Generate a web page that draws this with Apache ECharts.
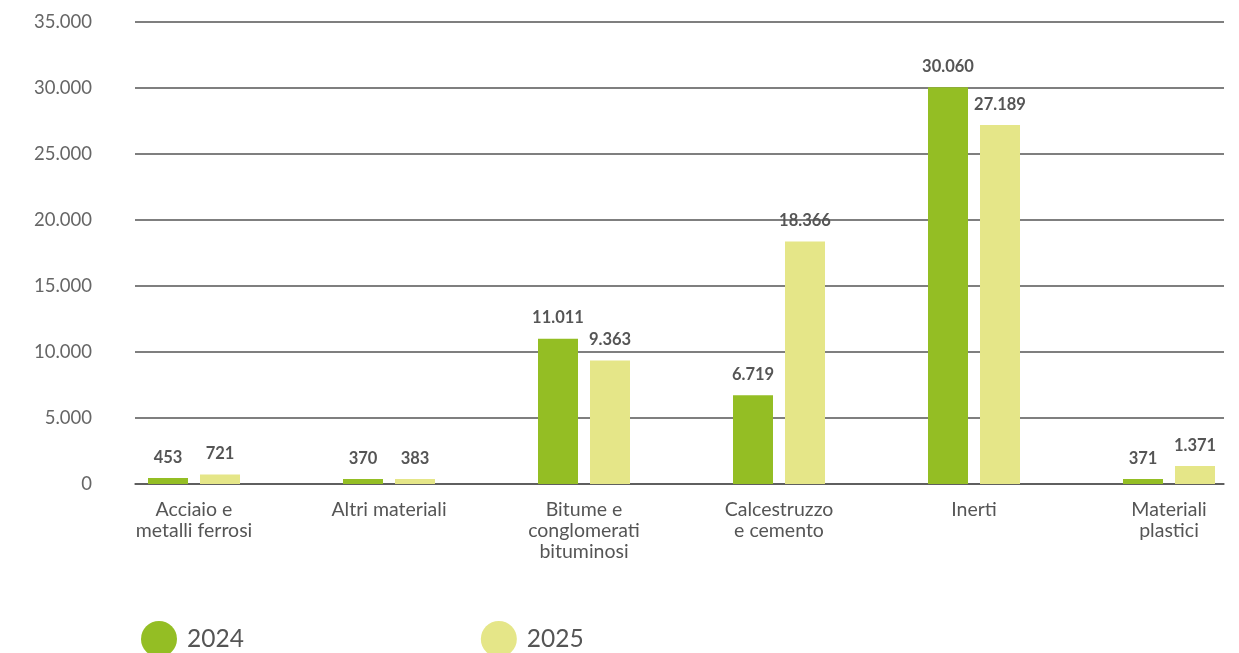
<!DOCTYPE html>
<html>
<head>
<meta charset="utf-8">
<script src="https://cdn.jsdelivr.net/npm/echarts@6/dist/echarts.min.js"></script>
<style>
  html, body { margin: 0; padding: 0; background: #fff; }
  #chart { width: 1239px; height: 653px; }
</style>
</head>
<body>
<div id="chart"></div>
<script>
const categories = [
  'Acciaio e\nmetalli ferrosi',
  'Altri materiali',
  'Bitume e\nconglomerati\nbituminosi',
  'Calcestruzzo\ne cemento',
  'Inerti',
  'Materiali\nplastici'
];
const values2024 = [453, 370, 11011, 6719, 30060, 371];
const values2025 = [721, 383, 9363, 18366, 27189, 1371];
const seriesNames = ['2024', '2025'];
const yTicks = { min: 0, max: 35000, interval: 5000 };

// Italian thousands separator: 30060 -> "30.060"
function fmt(v) {
  return String(Math.round(v)).replace(/\B(?=(\d{3})+(?!\d))/g, '.');
}

const FONT = 'Lato, "Open Sans", sans-serif';
const chart = echarts.init(document.getElementById('chart'));

const valueLabel = {
  show: true,
  position: 'top',
  distance: 12,
  fontFamily: FONT,
  fontWeight: 'bold',
  fontSize: 16.5,
  color: '#555',
  formatter: p => fmt(p.value)
};

chart.setOption({
  animation: false,
  legend: {
    data: seriesNames,
    left: 136,
    top: 616,
    icon: 'circle',
    itemWidth: 36,
    itemHeight: 36,
    itemGap: 237,
    textStyle: { fontFamily: FONT, fontSize: 24.5, color: '#555', padding: [0, 0, 0, 5] }
  },
  grid: [
    // frame with value scale and gridlines
    { left: 135, right: 15, top: 22, bottom: 169 },
    // bars: category bands run a little past the frame on the right
    { left: 96.5, right: -27.5, top: 22, bottom: 169, outerBoundsMode: 'none', containLabel: false }
  ],
  xAxis: [
    {
      gridIndex: 0, type: 'category', data: categories,
      axisLine: { show: true, lineStyle: { color: '#555', width: 1.5 } },
      axisTick: { show: false }, axisLabel: { show: false }
    },
    {
      gridIndex: 1, type: 'category', data: categories,
      axisLine: { show: false }, axisTick: { show: false },
      axisLabel: {
        margin: 15, fontFamily: FONT, fontSize: 19.5, color: '#555',
        lineHeight: 21, interval: 0
      }
    }
  ],
  yAxis: [
    {
      gridIndex: 0, type: 'value', min: yTicks.min, max: yTicks.max, interval: yTicks.interval,
      axisLine: { show: false }, axisTick: { show: false },
      splitLine: { lineStyle: { color: '#555', width: 1.5 } },
      axisLabel: { margin: 43, fontFamily: FONT, fontSize: 18.5, color: '#666', formatter: fmt }
    },
    {
      gridIndex: 1, type: 'value', min: yTicks.min, max: yTicks.max, interval: yTicks.interval,
      show: false, splitLine: { show: false }
    }
  ],
  series: [
    {
      name: seriesNames[0], type: 'bar', xAxisIndex: 1, yAxisIndex: 1,
      data: values2024, barWidth: 40, barGap: '30%',
      itemStyle: { color: '#94be24' }, label: valueLabel
    },
    {
      name: seriesNames[1], type: 'bar', xAxisIndex: 1, yAxisIndex: 1,
      data: values2025, barWidth: 40, barGap: '30%',
      itemStyle: { color: '#e5e688' }, label: valueLabel
    }
  ]
});
</script>
</body>
</html>
